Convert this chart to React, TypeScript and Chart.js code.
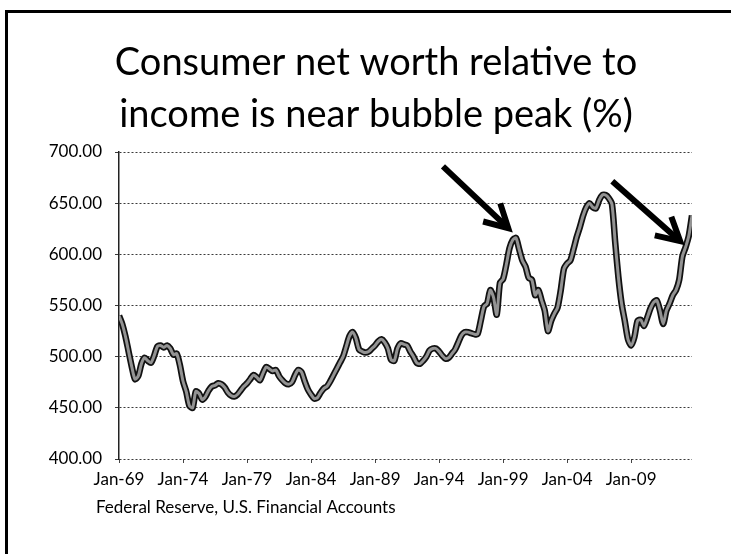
import React, { useEffect, useRef } from 'react';
import { Chart, registerables } from 'chart.js';

Chart.register(...registerables);

// Quarterly series, Q1 1969 .. Q4 2013 (index 0 = Jan-69)
const netWorth: number[] = [
  540, 532, 520, 505, 490, 478, 481, 493, 499, 496,
  494, 501, 510, 511, 509, 511, 508, 502, 503, 492,
  476, 466, 452, 450, 466, 464, 458, 461, 467, 471,
  472, 474, 473, 470, 465, 462, 461, 463, 467, 471,
  474, 478, 482, 480, 477, 484, 490, 488, 486, 487,
  481, 477, 474, 473, 475, 482, 487, 485, 476, 468,
  463, 459, 460, 465, 469, 471, 476, 482, 488, 494,
  500, 510, 520, 524, 518, 507, 505, 504, 505, 508,
  511, 515, 517, 514, 508, 497, 496, 508, 513, 512,
  511, 505, 500, 494, 493, 496, 500, 506, 508, 508,
  505, 501, 498, 499, 503, 507, 514, 521, 524, 524,
  523, 522, 522, 535, 549, 552, 565, 558, 541, 572,
  576, 590, 606, 614, 616, 605, 594, 588, 577, 575,
  560, 565, 555, 545, 525, 535, 542, 548, 565, 586,
  591, 594, 605, 617, 627, 638, 646, 650, 646, 645,
  653, 658, 658, 655, 649, 612, 578, 552, 535, 517,
  511, 519, 535, 536, 530, 538, 547, 553, 555, 545,
  532, 545, 552, 560, 565, 575, 598, 607, 618, 638,
];

const xTickIndices: number[] = [0, 20, 40, 60, 80, 100, 120, 140, 160];
const xTickLabels: string[] = ['Jan-69', 'Jan-74', 'Jan-79', 'Jan-84', 'Jan-89', 'Jan-94', 'Jan-99', 'Jan-04', 'Jan-09'];
const yTickValues: number[] = [400, 450, 500, 550, 600, 650, 700];

const titleLines: string[] = ['Consumer net worth relative to', 'income is near bubble peak (%)'];
const sourceNote = 'Federal Reserve, U.S. Financial Accounts';

// Arrows in data coordinates: [quarter index, value]
const arrowTails: number[][] = [[101.2, 686], [154.1, 671.5]];
const arrowTips: number[][] = [[121.6, 625.6], [175.3, 612.9]];

const FONT = 'Lato, "Open Sans", sans-serif';

const decorPlugin = {
  id: 'decor',
  beforeDraw(chart: any) {
    const { ctx, width, height } = chart;
    ctx.save();
    ctx.fillStyle = '#ffffff';
    ctx.fillRect(0, 0, width, height);
    ctx.fillStyle = '#000000';
    ctx.fillRect(5, 10, 3, height - 10);
    ctx.fillRect(5, 10, width - 5, 3);
    ctx.restore();
  },
  afterDraw(chart: any) {
    const { ctx } = chart;
    const xs = chart.scales.x;
    const ys = chart.scales.y;
    ctx.save();
    // title
    ctx.fillStyle = '#000';
    ctx.font = `38px ${FONT}`;
    ctx.textAlign = 'center';
    ctx.textBaseline = 'alphabetic';
    ctx.fillText(titleLines[0], 376, 75);
    ctx.fillText(titleLines[1], 376, 127);
    // source
    ctx.font = `17px ${FONT}`;
    ctx.textAlign = 'left';
    ctx.fillText(sourceNote, 96, 513);
    // arrows
    ctx.strokeStyle = '#000';
    ctx.lineWidth = 6;
    ctx.lineCap = 'butt';
    ctx.lineJoin = 'miter';
    for (let k = 0; k < arrowTails.length; k++) {
      const x0 = xs.getPixelForValue(arrowTails[k][0]);
      const y0 = ys.getPixelForValue(arrowTails[k][1]);
      const x1 = xs.getPixelForValue(arrowTips[k][0]);
      const y1 = ys.getPixelForValue(arrowTips[k][1]);
      const ang = Math.atan2(y1 - y0, x1 - x0);
      const len = Math.hypot(x1 - x0, y1 - y0);
      ctx.beginPath();
      ctx.moveTo(x0, y0);
      ctx.lineTo(x0 + Math.cos(ang) * (len - 3), y0 + Math.sin(ang) * (len - 3));
      ctx.stroke();
      const hl = 26;
      const spread = 0.5;
      ctx.beginPath();
      ctx.moveTo(x1 - Math.cos(ang - spread) * hl, y1 - Math.sin(ang - spread) * hl);
      ctx.lineTo(x1, y1);
      ctx.lineTo(x1 - Math.cos(ang + spread) * hl, y1 - Math.sin(ang + spread) * hl);
      ctx.stroke();
    }
    ctx.restore();
  },
};

export default function App() {
  const ref = useRef<HTMLCanvasElement | null>(null);

  useEffect(() => {
    document.body.style.margin = '0';
    const canvas = ref.current;
    if (!canvas) return;
    const points = netWorth.map((v, i) => ({ x: i, y: v }));
    const chart = new Chart(canvas, {
      type: 'line',
      data: {
        datasets: [
          {
            data: points,
            borderColor: '#939393',
            borderWidth: 3,
            pointRadius: 0,
            tension: 0.25,
            order: 1,
          },
          {
            data: points,
            borderColor: '#111111',
            borderWidth: 6.5,
            pointRadius: 0,
            tension: 0.25,
            order: 2,
          },
        ],
      },
      options: {
        animation: false,
        responsive: false,
        devicePixelRatio: 1,
        layout: { padding: { left: 0, right: 39, top: 152, bottom: 55 } },
        plugins: { legend: { display: false }, title: { display: false }, tooltip: { enabled: false } },
        scales: {
          x: {
            type: 'linear',
            min: 0,
            max: netWorth.length - 1,
            afterBuildTicks: (s: any) => {
              s.ticks = xTickIndices.map((v) => ({ value: v }));
            },
            afterFit: (s: any) => {
              s.height = 40;
            },
            ticks: {
              autoSkip: false,
              maxRotation: 0,
              padding: 6,
              color: '#000',
              font: { family: FONT, size: 17 },
              callback: (v: any) => {
                const k = xTickIndices.indexOf(Number(v));
                return k >= 0 ? xTickLabels[k] : '';
              },
            },
            grid: { display: true, drawOnChartArea: false, drawTicks: true, tickLength: 4, color: '#444' },
            border: { display: false },
          },
          y: {
            type: 'linear',
            min: yTickValues[0],
            max: yTickValues[yTickValues.length - 1],
            afterBuildTicks: (s: any) => {
              s.ticks = yTickValues.map((v) => ({ value: v }));
            },
            afterFit: (s: any) => {
              s.width = 119;
            },
            ticks: {
              padding: 13,
              color: '#000',
              font: { family: FONT, size: 17 },
              callback: (v: any) => Number(v).toFixed(2),
            },
            grid: { color: '#3a3a3a', lineWidth: 1, drawTicks: true, tickLength: 4 },
            border: { display: true, color: '#222', width: 1.5, dash: [2, 2] },
          },
        },
      },
      plugins: [decorPlugin],
    });
    return () => chart.destroy();
  }, []);

  return (
    <div style={{ position: 'fixed', left: 0, top: 0, width: 731, height: 554, background: '#fff' }}>
      <canvas ref={ref} width={731} height={554} style={{ display: 'block', width: 731, height: 554 }} />
    </div>
  );
}
